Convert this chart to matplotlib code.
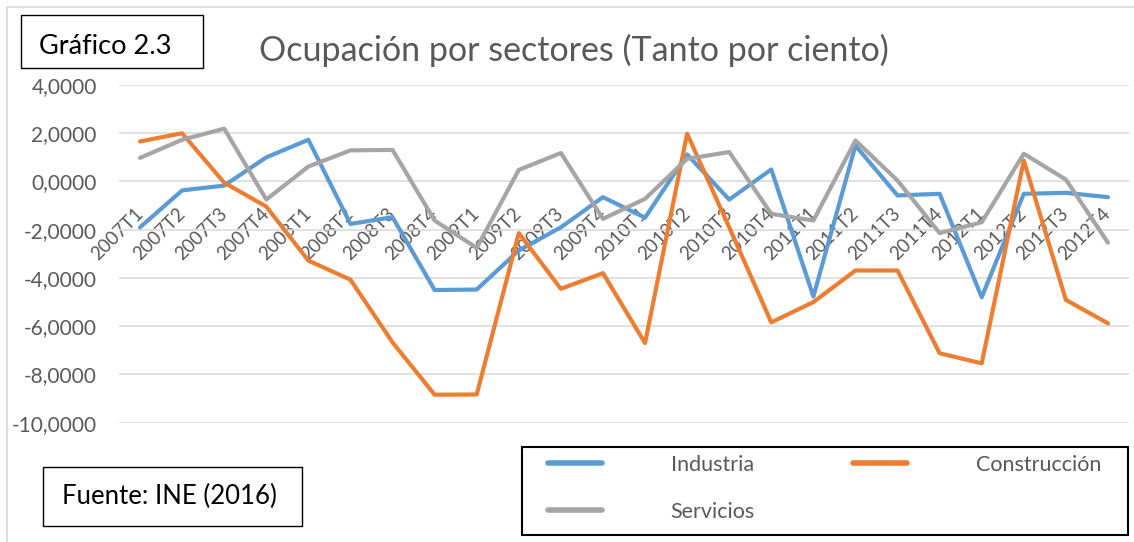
import matplotlib
matplotlib.use("Agg")
import matplotlib.pyplot as plt
from matplotlib.patches import Rectangle
from matplotlib.ticker import FuncFormatter, MultipleLocator

# ---------------- data ----------------
categories = ["2007T1", "2007T2", "2007T3", "2007T4",
              "2008T1", "2008T2", "2008T3", "2008T4",
              "2009T1", "2009T2", "2009T3", "2009T4",
              "2010T1", "2010T2", "2010T3", "2010T4",
              "2011T1", "2011T2", "2011T3", "2011T4",
              "2012T1", "2012T2", "2012T3", "2012T4"]

industria = [-1.90, -0.37, -0.17, 1.00, 1.73, -1.76, -1.48, -4.50,
             -4.48, -2.86, -1.90, -0.65, -1.50, 1.12, -0.75, 0.50,
             -4.77, 1.49, -0.58, -0.51, -4.80, -0.51, -0.47, -0.65]

construccion = [1.66, 2.00, -0.05, -1.04, -3.28, -4.07, -6.67, -8.84,
                -8.83, -2.14, -4.45, -3.80, -6.70, 1.98, -1.90, -5.84,
                -5.00, -3.69, -3.69, -7.12, -7.54, 0.87, -4.91, -5.88]

servicios = [0.98, 1.73, 2.19, -0.75, 0.62, 1.29, 1.31, -1.62,
             -2.75, 0.48, 1.18, -1.55, -0.72, 0.94, 1.22, -1.34,
             -1.62, 1.70, 0.04, -2.14, -1.69, 1.15, 0.08, -2.54]

series_names = ["Industria", "Construcción", "Servicios"]
series_colors = ["#5B9BD5", "#ED7D31", "#A5A5A5"]

title = "Ocupación por sectores (Tanto por ciento)"
chart_label = "Gráfico 2.3"
source_label = "Fuente: INE (2016)"

# ---------------- figure ----------------
W, H = 1134, 542
plt.rcParams['font.family'] = ['Lato', 'DejaVu Sans']
fig = plt.figure(figsize=(W / 100, H / 100), dpi=100)
fig.patch.set_facecolor("white")

def fx(x):
    return x / W

def fy(y):
    return 1 - y / H

# outer chart frame (only top/left visible)
fig.patches.append(Rectangle((fx(7), fy(560)), fx(1150) - fx(7), fy(7) - fy(560),
                             transform=fig.transFigure, fill=False,
                             edgecolor="#D9D9D9", linewidth=1.2, zorder=0))

left, right = 119, 1129
top, bottom = 85, 422.7
ax = fig.add_axes([fx(left), fy(bottom), fx(right) - fx(left), fy(top) - fy(bottom)])

x = list(range(len(categories)))
lines = {}
for vals, name, col in zip([industria, construccion, servicios], series_names, series_colors):
    ln, = ax.plot(x, vals, color=col, lw=3.0, solid_capstyle="round",
                  solid_joinstyle="round", label=name, zorder=3)
    lines[name] = ln

ax.set_xlim(-0.5, len(categories) - 0.5)
ax.set_ylim(-10, 4)
ax.yaxis.set_major_locator(MultipleLocator(2))
ax.yaxis.set_major_formatter(FuncFormatter(lambda v, p: f"{v:.4f}".replace(".", ",")))
ax.grid(axis="y", color="#D9D9D9", lw=1.1, zorder=0)
ax.set_axisbelow(True)
for s in ax.spines.values():
    s.set_visible(False)
ax.spines["bottom"].set_position(("data", 0))

ax.tick_params(axis="y", length=0, pad=16, labelsize=15, labelcolor="#595959")
ax.set_xticks(x)
ax.set_xticklabels(categories)
ax.tick_params(axis="x", length=0, pad=21, labelsize=13.5, labelcolor="#595959")
for lab in ax.get_xticklabels():
    lab.set_rotation(45)
    lab.set_ha("right")
    lab.set_va("center")
    lab.set_rotation_mode("anchor")

# title
fig.text(fx(574), fy(50), title, ha="center", va="center", fontsize=24.5, color="#595959")

# "Gráfico 2.3" box
fig.patches.append(Rectangle((fx(21), fy(68)), fx(203) - fx(21), fy(15) - fy(68),
                             transform=fig.transFigure, fill=True, facecolor="white",
                             edgecolor="black", linewidth=1.0, zorder=5))
fig.text(fx(105), fy(46), chart_label, ha="center", va="center", fontsize=19.5,
         color="black", zorder=6)

# source box
fig.patches.append(Rectangle((fx(43), fy(526)), fx(302) - fx(43), fy(467) - fy(526),
                             transform=fig.transFigure, fill=True, facecolor="white",
                             edgecolor="black", linewidth=1.0, zorder=5))
fig.text(fx(169), fy(496), source_label, ha="center", va="center", fontsize=18.5,
         color="black", zorder=6)

# legend box
fig.patches.append(Rectangle((fx(522), fy(535)), fx(1128) - fx(522), fy(447) - fy(535),
                             transform=fig.transFigure, fill=True, facecolor="white",
                             edgecolor="black", linewidth=1.5, zorder=5))
order = ["Industria", "Servicios", "Construcción"]
leg = fig.legend([lines[n] for n in order], order, ncol=2, loc="upper left",
                 bbox_to_anchor=(fx(548), fy(455)), frameon=False, fontsize=15.5,
                 labelcolor="#595959", handlelength=2.5, handletextpad=3.2,
                 columnspacing=4.55, labelspacing=1.25, borderpad=0, borderaxespad=0)
leg.set_zorder(7)
for h in leg.legend_handles:
    h.set_linewidth(4)

fig.savefig("out.png", dpi=100, facecolor="white")
